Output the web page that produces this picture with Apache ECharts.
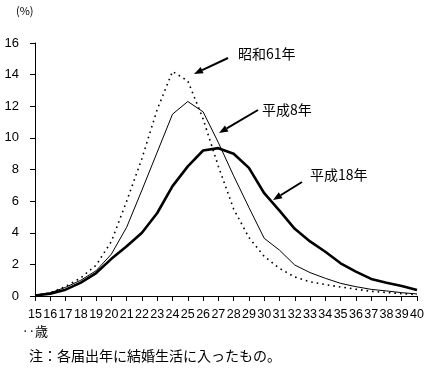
<!DOCTYPE html>
<html>
<head>
<meta charset="utf-8">
<script src="https://cdn.jsdelivr.net/npm/echarts@6/dist/echarts.min.js"></script>
<style>html,body{margin:0;padding:0;background:#fff}#c{width:427px;height:372px}</style>
</head>
<body>
<div id="c"></div>
<script>
const ages = ['15','16','17','18','19','20','21','22','23','24','25','26','27','28','29','30','31','32','33','34','35','36','37','38','39','40'];
const yTicks = [0, 16, 2];
const showa61 = [0.05,0.2,0.6,1.15,1.95,3.45,6.0,8.7,11.8,14.2,13.6,11.2,8.2,5.5,3.7,2.5,1.75,1.2,0.9,0.72,0.57,0.43,0.3,0.22,0.15,0.08];
const heisei8 = [0.03,0.2,0.55,1.0,1.6,2.65,4.35,6.7,9.1,11.5,12.3,11.65,9.7,7.6,5.6,3.65,2.9,1.96,1.48,1.12,0.8,0.59,0.42,0.32,0.21,0.13];
const heisei18 = [0.03,0.15,0.4,0.85,1.45,2.35,3.15,4.0,5.25,6.95,8.2,9.2,9.35,9.0,8.1,6.5,5.4,4.25,3.45,2.8,2.07,1.54,1.08,0.84,0.63,0.38];
const seriesNames = ['昭和61年','平成8年','平成18年'];

const jp = '"Noto Sans CJK JP", sans-serif';
function arrow(x1, y1, x2, y2) {
  const ang = Math.atan2(y2 - y1, x2 - x1);
  const L = 9, W = 3.5;
  const bx = x2 - L * Math.cos(ang), by = y2 - L * Math.sin(ang);
  const px = -Math.sin(ang) * W, py = Math.cos(ang) * W;
  return [
    {type:'line', shape:{x1:x1,y1:y1,x2:bx,y2:by}, style:{stroke:'#000', lineWidth:2}, silent:true},
    {type:'polygon', shape:{points:[[x2,y2],[bx+px,by+py],[bx-px,by-py]]}, style:{fill:'#000'}, silent:true}
  ];
}
function label(text, x, y) {
  return {type:'text', left:x, top:y, style:{text:text, font:'14px ' + jp, fill:'#000'}, silent:true};
}

const chart = echarts.init(document.getElementById('c'));
chart.setOption({
  animation: false,
  backgroundColor: '#fff',
  grid: {left: 35, right: 10, top: 43, bottom: 76, containLabel: false},
  xAxis: {
    type: 'category', data: ages, boundaryGap: false,
    axisLine: {lineStyle: {color: '#000', width: 1}},
    axisTick: {show: true, length: 5, lineStyle: {color: '#000'}, interval: 0},
    axisLabel: {interval: 0, color: '#000', fontSize: 12.5, fontFamily: 'Liberation Sans', margin: 12},
    splitLine: {show: false}
  },
  yAxis: {
    type: 'value', min: yTicks[0], max: yTicks[1], interval: yTicks[2],
    axisLine: {show: true, lineStyle: {color: '#000', width: 1}},
    axisTick: {show: true, length: 5, lineStyle: {color: '#000'}},
    axisLabel: {color: '#000', fontSize: 13, fontFamily: 'Liberation Sans', margin: 16},
    splitLine: {show: false}
  },
  series: [
    {name: seriesNames[0], type: 'line', data: showa61, symbol: 'none', smooth: false,
     lineStyle: {color: '#000', width: 1.6, type: [1.6, 4]}},
    {name: seriesNames[1], type: 'line', data: heisei8, symbol: 'none',
     lineStyle: {color: '#000', width: 1}},
    {name: seriesNames[2], type: 'line', data: heisei18, symbol: 'none',
     lineStyle: {color: '#000', width: 2.6}}
  ],
  graphic: [
    {type:'text', left: 16, top: 5, style:{text:'(%)', font:'11px ' + jp, fill:'#000'}},
    label(seriesNames[0], 238, 47),
    label(seriesNames[1], 262, 103),
    label(seriesNames[2], 310, 168),
    ...arrow(228, 58, 194, 74),
    ...arrow(258, 110, 219, 133),
    ...arrow(302, 182, 273, 200),
    {type:'text', left: 22, top: 325, style:{text:'‥歳', font:'13px ' + jp, fill:'#000'}},
    {type:'text', left: 29, top: 349, style:{text:'注：各届出年に結婚生活に入ったもの。', font:'14px ' + jp, fill:'#000'}}
  ]
});
</script>
</body>
</html>
